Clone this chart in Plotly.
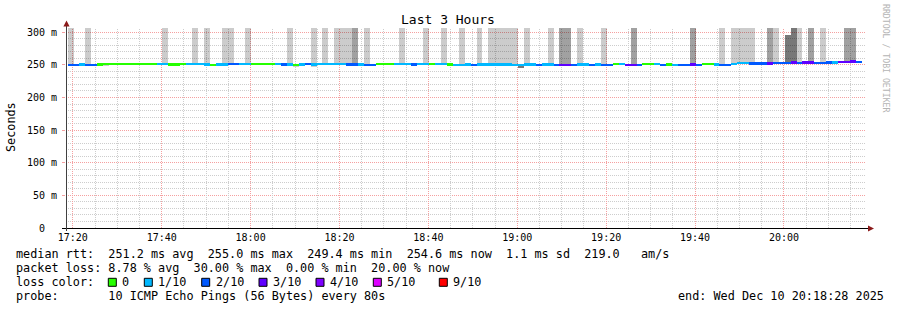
import math
import datetime as dt
import plotly.graph_objects as go

# ---------------- data (SmokePing, 80 s steps) ----------------
step_start = "2025-12-10 17:18:50"
step_seconds = 80

median_ms = [
    250.2, 250.2, 250.5, 250.2, 250.2, 250.5, 251.8, 251.8, 250.8, 250.8,
    251.5, 251.2, 251.0, 251.3, 251.5, 251.3, 251.3, 250.6, 250.6, 251.5,
    251.8, 251.8, 251.5, 250.5, 249.8, 250.5, 250.5, 251.2, 251.0, 250.8,
    250.8, 251.5, 251.5, 251.5, 251.0, 251.0, 250.5, 250.5, 249.8, 250.5,
    250.8, 250.5, 250.8, 250.8, 250.8, 250.8, 251.0, 250.5, 250.5, 250.5,
    250.3, 250.3, 251.0, 251.5, 251.3, 250.8, 250.8, 250.8, 250.5, 250.8,
    250.8, 251.5, 251.0, 251.0, 250.5, 250.3, 250.3, 250.5, 250.3, 250.5,
    250.5, 250.5, 250.5, 250.5, 250.5, 249.8, 249.4, 250.5, 250.5, 250.3,
    250.5, 250.5, 250.3, 250.3, 250.3, 250.3, 250.5, 250.5, 250.3, 250.5,
    250.3, 250.3, 250.8, 251.2, 250.3, 250.3, 250.3, 250.8, 250.8, 251.0,
    250.3, 250.5, 250.0, 250.3, 250.3, 250.5, 250.0, 250.8, 250.8, 250.5,
    250.3, 250.3, 251.3, 252.5, 252.5, 252.0, 252.0, 252.0, 252.0, 252.8,
    253.0, 253.2, 253.5, 253.0, 253.5, 253.5, 253.0, 253.0, 253.8, 253.8,
    254.5, 254.8, 255.0, 254.6,
]

# lost pings out of 10 per step
loss_count = [
    2, 2, 1, 2, 2, 0, 0, 0, 0, 0,
    0, 0, 0, 0, 0, 1, 1, 0, 0, 0,
    1, 1, 1, 1, 0, 1, 1, 2, 2, 1,
    1, 0, 0, 0, 0, 1, 2, 1, 0, 1,
    2, 1, 1, 1, 1, 1, 1, 2, 2, 1,
    2, 2, 0, 0, 0, 1, 1, 1, 2, 1,
    1, 0, 1, 1, 0, 1, 1, 1, 2, 1,
    1, 1, 1, 1, 1, 1, 1, 1, 1, 2,
    1, 1, 2, 3, 3, 2, 1, 1, 2, 1,
    2, 2, 0, 1, 3, 3, 2, 0, 0, 1,
    2, 0, 1, 2, 2, 3, 2, 0, 0, 1,
    2, 2, 1, 1, 1, 2, 2, 2, 3, 2,
    2, 2, 3, 2, 3, 3, 2, 2, 2, 1,
    3, 3, 3, 2,
]

# upper edge of the smoke (ms); 310 = pings above the chart top
smoke_high = [
    310, None, None, 310, None, None, None, None, None, None,
    None, None, 252.8, 252.8, None, 253.0, 310, None, None, None,
    None, 310, None, 310, None, None, 310, 310, None, None,
    310, None, None, None, None, 253.5, None, 310, None, None,
    None, 310, None, 310, None, 310, 310, 310, 310, None,
    310, None, 252.5, 253.0, None, None, 310, None, None, 252.5,
    310, None, None, 310, None, None, 310, None, None, 310,
    None, 310, 310, 310, 310, 310, None, 310, None, None,
    None, 310, None, 310, 310, None, 310, None, None, None,
    310, None, None, 253.0, None, 310, None, None, None, 252.8,
    None, None, None, None, None, 310, None, None, None, None,
    310, None, 310, 310, 310, 310, None, None, 310, 310,
    254.5, 296, 310, 310, None, 310, None, 310, 255.5, 256.0,
    256.0, 310, 310, 256.0,
]
smoke_high_density = [
    0, 0, 0, 0, 0, 0, 0, 0, 0, 0,
    0, 0, 0, 0, 0, 0, 0, 0, 0, 0,
    0, 0, 0, 0, 0, 0, 0, 0, 0, 0,
    0, 0, 0, 0, 0, 0, 0, 0, 0, 0,
    0, 0, 0, 0, 0, 0, 0, 0, 1, 0,
    0, 0, 0, 0, 0, 0, 0, 0, 0, 0,
    0, 0, 0, 0, 0, 0, 0, 0, 0, 0,
    0, 0, 0, 0, 0, 0, 0, 0, 0, 0,
    0, 0, 0, 1, 1, 0, 0, 0, 0, 0,
    0, 0, 0, 0, 0, 1, 0, 0, 0, 0,
    0, 0, 0, 0, 0, 1, 0, 0, 0, 0,
    0, 0, 0, 0, 0, 0, 0, 0, 1, 0,
    0, 2, 2, 0, 0, 1, 0, 0, 0, 0,
    0, 1, 1, 0,
]
# lower edge of the smoke (ms)
smoke_low = [
    None, None, None, None, None, 248.5, 248.8, None, None, None,
    None, None, None, None, None, None, None, None, None, None,
    None, None, None, 249.0, 248.5, None, None, None, None, None,
    None, None, None, None, None, None, None, 248.0, 247.5, None,
    None, 246.0, None, None, None, None, None, None, None, None,
    None, None, None, None, None, None, None, None, None, None,
    None, None, None, None, None, None, None, None, None, None,
    None, None, None, 249.3, None, 247.8, 245.5, None, None, None,
    None, None, None, None, 249.0, None, None, None, None, None,
    None, None, None, None, None, None, None, None, None, None,
    None, None, None, None, None, None, None, None, None, None,
    None, None, None, None, None, None, None, None, None, None,
    None, None, None, None, None, None, None, None, None, None,
    None, None, None, None,
]
smoke_low_density = [0] * 75 + [1, 2] + [0] * 57

loss_labels = ["0", "1/10", "2/10", "3/10", "4/10", "5/10", "9/10"]
loss_label_counts = [0, 1, 2, 3, 4, 5, 9]
loss_palette = {0: "#26ff00", 1: "#00b8ff", 2: "#0059ff", 3: "#5e00ff",
                4: "#7e00ff", 5: "#dd00ff", 9: "#ff0000"}
smoke_palette = ["rgba(0,0,0,0.20)", "rgba(0,0,0,0.37)", "rgba(0,0,0,0.53)"]

y_tick_values = [0, 50, 100, 150, 200, 250, 300]
y_tick_labels = ["0\u00a0\u00a0", "50\u00a0m", "100\u00a0m", "150\u00a0m",
                 "200\u00a0m", "250\u00a0m", "300\u00a0m"]
y_max = 306.5

legend_lines = [
    "median rtt:  251.2 ms avg  255.0 ms max  249.4 ms min  254.6 ms now  1.1 ms sd  219.0   am/s",
    "packet loss: 8.78 % avg  30.00 % max  0.00 % min  20.00 % now",
    "loss color:",
    "probe:       10 ICMP Echo Pings (56 Bytes) every 80s",
]
end_text = "end: Wed Dec 10 20:18:28 2025"
x_start = "2025-12-10 17:18:28"
x_end = "2025-12-10 20:18:28"
first_tick = "2025-12-10 17:20:00"

# ---------------- build ----------------
t0 = dt.datetime.fromisoformat(step_start)
centers = [t0 + dt.timedelta(seconds=step_seconds * (k + 0.5)) for k in range(len(median_ms))]
width_ms = step_seconds * 1000
line_half = 1.75

fig = go.Figure()

up_x, up_base, up_h, up_c = [], [], [], []
for c, m, h, d in zip(centers, median_ms, smoke_high, smoke_high_density):
    if h is not None:
        up_x.append(c); up_base.append(m); up_h.append(h - m); up_c.append(smoke_palette[d])
fig.add_trace(go.Bar(x=up_x, y=up_h, base=up_base, width=width_ms,
                     marker=dict(color=up_c, line=dict(width=0)), hoverinfo="skip"))
lo_x, lo_base, lo_h, lo_c = [], [], [], []
for c, m, l, d in zip(centers, median_ms, smoke_low, smoke_low_density):
    if l is not None:
        lo_x.append(c); lo_base.append(l); lo_h.append(m - l); lo_c.append(smoke_palette[d])
fig.add_trace(go.Bar(x=lo_x, y=lo_h, base=lo_base, width=width_ms,
                     marker=dict(color=lo_c, line=dict(width=0)), hoverinfo="skip"))
fig.add_trace(go.Bar(x=centers, y=[2 * line_half] * len(median_ms),
                     base=[m - line_half for m in median_ms], width=width_ms,
                     marker=dict(color=[loss_palette[l] for l in loss_count], line=dict(width=0)),
                     hoverinfo="skip"))

L, T, W, H = 66, 28, 800, 200
def fx(p):
    return (p - L) / W
def fy(p):
    return (T + H - p) / H

MONO = "DejaVu Sans Mono"
major_grid = "#f5a0a0"
minor_grid = "#cdcdcd"

fig.update_layout(
    width=897, height=310,
    margin=dict(l=L, r=897 - L - W, t=T, b=310 - T - H, pad=0),
    paper_bgcolor="white", plot_bgcolor="white",
    barmode="overlay", bargap=0, showlegend=False,
    font=dict(family=MONO, size=10, color="black"),
    xaxis=dict(type="date", range=[x_start, x_end], tickformat="%H:%M",
               tick0=first_tick, dtick=20 * 60 * 1000,
               showgrid=False, ticks="", showline=False, zeroline=False,
               tickfont=dict(family=MONO, size=10, color="black"), ticklabelstandoff=2),
    yaxis=dict(range=[0, y_max], tickmode="array", tickvals=y_tick_values, ticktext=y_tick_labels,
               showgrid=False, ticks="outside", ticklen=3, tickcolor=major_grid,
               showline=False, zeroline=False,
               tickfont=dict(family=MONO, size=10, color="black"), ticklabelstandoff=3),
)

shapes = []
# grid (dotted, snapped to pixel centres), drawn below the data
for v in range(10, 301, 10):
    py = T + H - v * H / y_max
    snap = math.floor(py) + 0.5
    col = major_grid if v % 50 == 0 else minor_grid
    shapes.append(dict(type="line", xref="paper", yref="paper", x0=0, x1=1,
                       y0=fy(snap), y1=fy(snap), layer="below",
                       line=dict(color=col, width=1, dash="1px,1px")))
xs = dt.datetime.fromisoformat(x_start)
xe = dt.datetime.fromisoformat(x_end)
span = (xe - xs).total_seconds()
tick = dt.datetime.fromisoformat(first_tick)
while tick < xe:
    px = L + W * (tick - xs).total_seconds() / span
    snap = math.floor(px) + 0.5
    major = ((tick - dt.datetime.fromisoformat(first_tick)).total_seconds() % 1200) == 0
    shapes.append(dict(type="line", xref="paper", yref="paper", x0=fx(snap), x1=fx(snap),
                       y0=0, y1=1, layer="below",
                       line=dict(color=major_grid if major else minor_grid, width=1, dash="1px,1px")))
    tick += dt.timedelta(minutes=5)

# axes
shapes.append(dict(type="line", xref="paper", yref="paper", x0=fx(62), x1=fx(869),
                   y0=fy(228.5), y1=fy(228.5), line=dict(color="#000000", width=1)))
shapes.append(dict(type="line", xref="paper", yref="paper", x0=fx(66.5), x1=fx(66.5),
                   y0=fy(231), y1=fy(25), line=dict(color="#404040", width=1)))
shapes.append(dict(type="path", xref="paper", yref="paper",
                   path=f"M {fx(868)},{fy(225.5)} L {fx(874)},{fy(228.5)} L {fx(868)},{fy(231.5)} Z",
                   fillcolor="#8b1a1a", line=dict(width=0)))
shapes.append(dict(type="path", xref="paper", yref="paper",
                   path=f"M {fx(63.4)},{fy(26.5)} L {fx(66.5)},{fy(20.5)} L {fx(69.6)},{fy(26.5)} Z",
                   fillcolor="#8b1a1a", line=dict(width=0)))

annotations = []
def ann(text, x, y, size=11.8, xanchor="left", color="black", angle=0):
    annotations.append(dict(text=text.replace(" ", "\u00a0"), x=fx(x), y=fy(y),
                            xref="paper", yref="paper", xanchor=xanchor, yanchor="middle",
                            showarrow=False, borderpad=0, borderwidth=0, textangle=angle,
                            font=dict(family=MONO, size=size, color=color)))

ann("Last 3 Hours", 447.5, 19.5, size=13, xanchor="center")
ann("Seconds", 11, 127, size=11.8, xanchor="center", angle=-90)
ann("RRDTOOL / TOBI OETIKER", 886, 59, size=8.2, xanchor="center", color="#b4b4b4", angle=90)

line_y = [254, 268, 282, 296]
for txt, yy in zip(legend_lines, line_y):
    ann(txt, 15.5, yy)
ann(end_text, 678, 296)

box_x = [108.3, 144.3, 201.7, 259.0, 316.0, 373.3, 439.3]
label_x = [122.0, 158.5, 216.0, 273.0, 330.5, 387.5, 453.0]
for lab, cnt, bx, lx in zip(loss_labels, loss_label_counts, box_x, label_x):
    shapes.append(dict(type="rect", xref="paper", yref="paper",
                       x0=fx(bx), x1=fx(bx + 8), y0=fy(278.3), y1=fy(286.3),
                       fillcolor=loss_palette[cnt], line=dict(color="#000000", width=1)))
    ann(lab, lx - 0.5, 282)

fig.update_layout(shapes=shapes, annotations=annotations)
fig.write_html("out.html")
